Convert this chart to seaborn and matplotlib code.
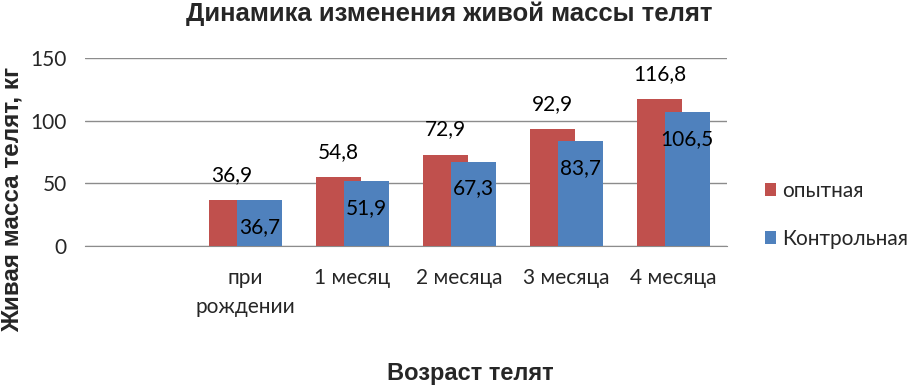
import matplotlib
matplotlib.use("Agg")
from matplotlib import pyplot as plt
import numpy as np
import pandas
import seaborn as sns

# data
categories = ["", "при\nрождении", "1 месяц", "2 месяца", "3 месяца", "4 месяца"]
ages = ["при\nрождении", "1 месяц", "2 месяца", "3 месяца", "4 месяца"]
opytnaya = [36.9, 54.8, 72.9, 92.9, 116.8]
kontrolnaya = [36.7, 51.9, 67.3, 83.7, 106.5]
series_names = ["опытная", "Контрольная"]
colors = ["#C0504D", "#4F81BD"]

df = pandas.DataFrame({
    "age": ages * 2,
    "mass": opytnaya + kontrolnaya,
    "group": [series_names[0]] * len(ages) + [series_names[1]] * len(ages),
})

sns.set_style("white")
plt.rcParams["font.family"] = ["Lato", "DejaVu Sans"]

fig = plt.figure(figsize=(9.12, 3.88), dpi=100)
ax = fig.add_axes([0.093, 0.366, 0.704, 0.485])

g = sns.barplot(data=df, x="age", y="mass", hue="group", order=categories,
                hue_order=series_names, palette=colors, width=0.52,
                saturation=1, ax=ax, errorbar=None, zorder=3, linewidth=0)

# widen bars so they overlap like the original
bar_w = 0.42
for p in ax.patches:
    if p.get_height() > 0:
        cx = p.get_x() + p.get_width() / 2
        p.set_width(bar_w)
        p.set_x(cx - bar_w / 2)

# value labels
for i, cont in enumerate(ax.containers):
    for p in cont:
        cx = p.get_x() + p.get_width() / 2
        h = p.get_height()
        txt = f"{h:.1f}".replace(".", ",")
        off = 25 if i == 0 else -27
        ax.annotate(txt, (cx, h), xytext=(0, off), textcoords="offset pixels",
                    ha="center", va="center", fontsize=15, color="black")

ax.set_ylim(0, 150)
ax.set_yticks([0, 50, 100, 150])
ax.set_xlim(-0.5, 5.5)
ax.yaxis.grid(True, color="#8c8c8c", linewidth=1, zorder=0)
for s in ["top", "right", "left"]:
    ax.spines[s].set_visible(False)
ax.spines["bottom"].set_color("#8c8c8c")
ax.tick_params(axis="both", length=0, labelsize=15)
ax.tick_params(axis="x", pad=16)
ax.tick_params(axis="y", pad=13)
for t in ax.get_xticklabels():
    t.set_linespacing(1.55)

ax.set_xlabel("Возраст телят", fontsize=17, fontweight="bold",
              family=["Liberation Sans", "DejaVu Sans"])
ax.xaxis.set_label_coords(0.6, -0.615)
ax.set_ylabel("Живая масса телят, кг", fontsize=17.5, fontweight="bold",
              family=["Liberation Sans", "DejaVu Sans"])
ax.yaxis.set_label_coords(-0.096, 0.245)
fig.suptitle("Динамика изменения живой массы телят", fontsize=18.5,
             fontweight="bold", family=["Liberation Sans", "DejaVu Sans"],
             x=0.493, y=0.995)

leg = ax.legend(loc="center left", bbox_to_anchor=(1.03, 0.165), frameon=False,
                fontsize=15, handlelength=0.55, handleheight=0.55,
                handletextpad=0.3, labelspacing=1.35)

fig.savefig("out.png", dpi=100)
